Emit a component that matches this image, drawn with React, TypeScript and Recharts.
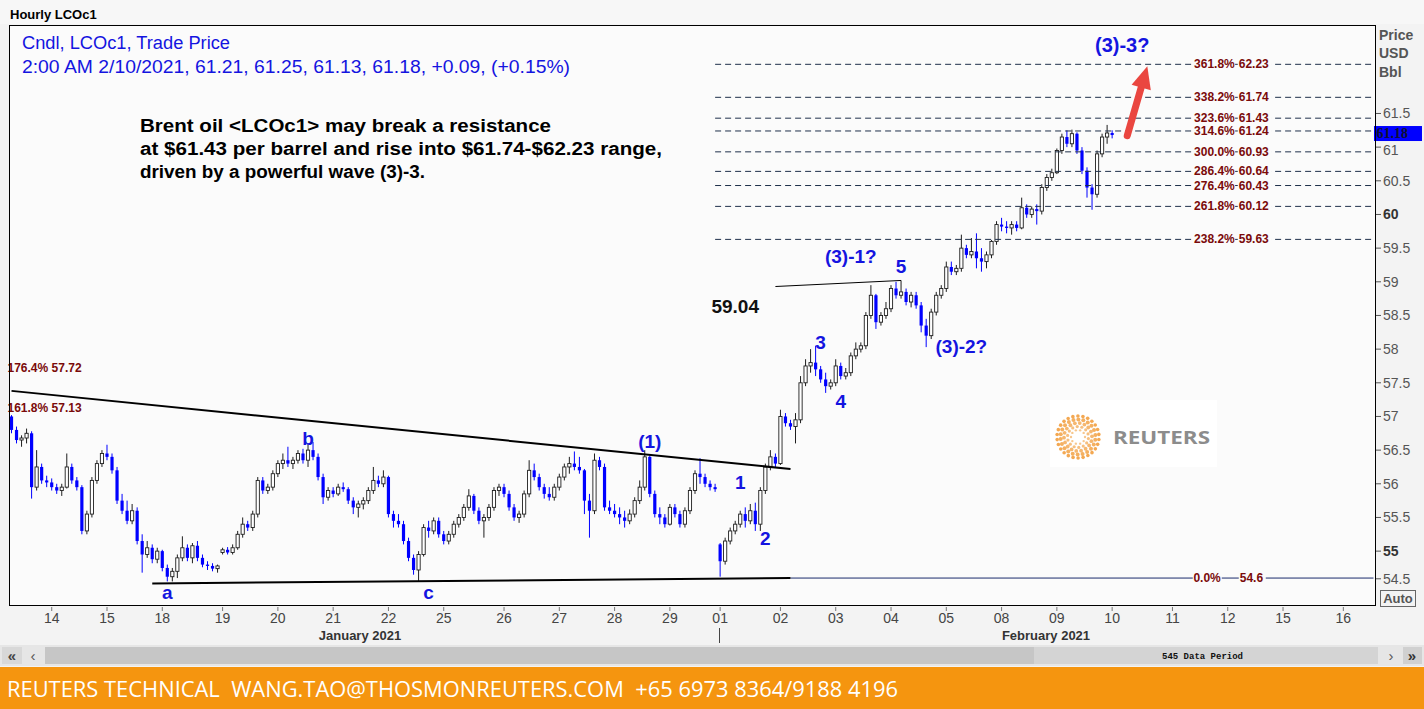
import React from 'react';
import { ComposedChart, Bar, XAxis, YAxis, ReferenceLine, ReferenceDot } from 'recharts';

// ---------- DATA ----------
const dayLabels = ['13','14','15','18','19','20','21','22','25','26','27','28','29','01','02','03','04','05','08','09','10','11','12','15','16'];
// number of 2-hour bars per trading day (last ones are empty future slots)
const barsPerDay = [8,11,11,12,11,11,11,11,12,11,11,11,10,12,11,11,11,11,11,11,12,11,11,12,7];

const opens = [
  57.0,56.8,56.65,56.68,56.75,55.95,56.25,56.05,
  56.02,55.95,55.9,55.95,56.25,56.05,55.95,55.3,55.55,56.05,56.3,
  56.45,56.4,56.2,55.75,55.6,55.45,55.6,55.15,54.95,55.05,54.88,
  55.0,54.75,54.62,54.7,54.9,55.05,54.9,55.08,54.9,54.8,54.78,54.74,
  54.98,55.02,54.98,55.05,55.25,55.4,55.35,55.55,56.05,55.9,55.95,
  56.15,56.3,56.35,56.3,56.35,56.45,56.35,56.5,56.4,56.1,55.8,
  55.9,55.85,55.95,55.92,55.75,55.65,55.7,55.75,55.9,56.05,56.0,
  56.1,55.55,55.45,55.4,55.15,54.9,54.72,54.95,55.35,55.3,55.45,
  55.25,55.15,55.25,55.4,55.5,55.65,55.82,55.6,55.45,55.5,55.65,55.9,
  55.95,55.85,55.65,55.5,55.55,55.85,56.2,56.1,55.95,55.85,55.8,
  55.95,56.1,56.25,56.3,56.25,56.2,55.75,55.6,56.35,56.25,55.65,
  55.6,55.55,55.5,55.45,55.55,55.75,55.95,56.4,55.85,55.55,55.5,
  55.4,55.65,55.55,55.4,55.6,55.9,56.15,56.1,56.0,55.95,
  55.1,54.85,55.15,55.3,55.4,55.55,55.45,55.6,55.4,55.9,56.25,56.4,
  56.3,57.0,56.9,56.85,56.95,57.5,57.75,57.8,57.7,57.55,57.45,
  57.5,57.75,57.6,57.65,57.9,58.0,58.05,58.5,58.8,58.4,58.5,
  58.6,58.9,58.8,58.85,58.7,58.8,58.65,58.35,58.2,58.55,58.8,
  58.9,59.22,59.15,59.2,59.5,59.4,59.45,59.35,59.3,59.4,59.6,
  59.85,59.82,59.8,59.85,59.8,60.1,60.0,60.08,60.05,60.4,60.55,
  60.62,60.95,61.15,61.05,61.2,60.95,60.65,60.4,60.3,60.9,61.15,
  61.21,
];
const highs = [
  57.02,56.85,56.72,56.82,56.78,56.5,56.3,56.12,
  56.08,56.0,56.0,56.45,56.3,56.1,55.98,55.6,56.1,56.35,56.5,
  56.58,56.45,56.25,55.85,55.75,55.7,55.65,55.25,55.15,55.1,55.05,
  55.02,54.8,54.75,54.95,55.22,55.1,55.12,55.15,54.95,54.85,54.82,54.8,
  55.05,55.06,55.1,55.3,55.5,55.45,55.6,56.1,56.1,56.0,56.2,
  56.35,56.45,56.55,56.4,56.5,56.52,56.6,56.62,56.45,56.15,55.95,
  55.95,56.0,56.02,55.95,55.8,55.75,55.8,55.95,56.25,56.12,56.2,
  56.12,55.6,55.55,55.45,55.2,54.95,55.0,55.4,55.45,55.5,55.5,
  55.3,55.3,55.45,55.55,55.7,55.92,55.85,55.65,55.55,55.7,55.95,56.0,
  56.0,55.9,55.7,55.6,55.9,56.35,56.3,56.15,56.0,55.95,56.0,
  56.15,56.3,56.4,56.48,56.4,56.22,55.85,56.45,56.4,56.3,55.75,
  55.7,55.65,55.6,55.62,55.8,56.05,56.5,56.42,55.9,55.65,55.55,
  55.7,55.7,55.6,55.65,55.95,56.2,56.38,56.15,56.05,56.0,
  55.12,55.2,55.35,55.45,55.6,55.65,55.7,55.72,55.95,56.3,56.5,56.45,
  57.1,57.05,56.95,57.05,57.6,57.85,58.0,58.05,57.75,57.65,57.55,
  57.85,57.8,57.72,57.95,58.1,58.1,58.55,58.95,58.82,58.55,58.7,
  58.95,59.0,59.02,58.9,58.85,58.85,58.7,58.45,58.6,58.85,58.95,
  59.3,59.3,59.25,59.7,59.55,59.65,59.72,59.5,59.45,59.62,59.9,
  59.95,59.9,59.9,59.9,60.25,60.15,60.12,60.15,60.45,60.6,60.68,
  60.98,61.2,61.25,61.26,61.22,61.0,60.7,60.45,60.95,61.2,61.33,
  61.25,
];
const lows = [
  56.75,56.6,56.55,56.6,55.78,55.9,56.0,55.95,
  55.9,55.85,55.82,55.93,56.0,55.9,55.25,55.25,55.5,56.0,56.25,
  56.35,56.15,55.7,55.55,55.4,55.4,55.1,54.68,54.9,54.82,54.82,
  54.7,54.55,54.55,54.6,54.85,54.85,54.82,54.85,54.76,54.72,54.7,54.68,
  54.95,54.95,54.95,55.02,55.2,55.3,55.3,55.5,55.85,55.85,55.9,
  56.1,56.22,56.25,56.22,56.3,56.3,56.25,56.35,56.05,55.7,55.75,
  55.8,55.82,55.88,55.7,55.55,55.5,55.62,55.7,55.85,55.95,55.95,
  55.5,55.35,55.35,55.1,54.85,54.65,54.55,54.92,55.2,55.25,55.2,
  55.1,55.1,55.2,55.35,55.45,55.6,55.55,55.4,55.2,55.45,55.6,55.82,
  55.8,55.6,55.45,55.42,55.5,55.8,56.05,55.9,55.78,55.75,55.75,
  55.9,56.05,56.15,56.2,56.15,55.55,55.2,55.55,56.2,55.6,55.55,
  55.5,55.4,55.35,55.4,55.5,55.7,55.9,55.8,55.5,55.4,55.35,
  55.38,55.5,55.35,55.35,55.55,55.85,56.0,55.95,55.9,55.88,
  54.62,54.8,55.1,55.25,55.35,55.35,55.4,55.3,55.3,55.85,56.2,56.25,
  56.28,56.85,56.8,56.6,56.9,57.45,57.65,57.6,57.5,57.35,57.4,
  57.45,57.55,57.55,57.6,57.85,57.95,58.0,58.45,58.3,58.35,58.45,
  58.55,58.75,58.75,58.65,58.62,58.6,58.25,58.03,58.15,58.5,58.75,
  58.85,59.1,59.1,59.15,59.35,59.35,59.2,59.15,59.2,59.35,59.55,
  59.75,59.72,59.7,59.75,59.78,59.95,59.95,59.85,60.0,60.35,60.5,
  60.6,60.9,61.0,61.0,60.9,60.6,60.25,60.07,60.25,60.85,61.05,
  61.13,
];
const closes = [
  56.8,56.65,56.68,56.75,55.95,56.25,56.05,56.02,
  55.95,55.9,55.95,56.25,56.05,55.95,55.3,55.55,56.05,56.3,56.45,
  56.4,56.2,55.75,55.6,55.45,55.6,55.15,54.95,55.05,54.88,55.0,
  54.75,54.62,54.7,54.9,55.05,54.9,55.08,54.9,54.8,54.78,54.74,54.78,
  55.02,54.98,55.05,55.25,55.4,55.35,55.55,56.05,55.9,55.95,56.15,
  56.3,56.35,56.3,56.35,56.45,56.35,56.5,56.4,56.1,55.8,55.9,
  55.85,55.95,55.92,55.75,55.65,55.7,55.75,55.9,56.05,56.0,56.1,
  55.55,55.45,55.4,55.15,54.9,54.72,54.95,55.35,55.3,55.45,55.25,
  55.15,55.25,55.4,55.5,55.65,55.82,55.6,55.45,55.5,55.65,55.9,55.95,
  55.85,55.65,55.5,55.55,55.85,56.2,56.1,55.95,55.85,55.8,55.95,
  56.1,56.25,56.3,56.25,56.2,55.75,55.6,56.35,56.25,55.65,55.6,
  55.55,55.5,55.45,55.55,55.75,55.95,56.4,55.85,55.55,55.5,55.4,
  55.65,55.55,55.4,55.6,55.9,56.15,56.1,56.0,55.95,55.92,
  54.85,55.15,55.3,55.4,55.55,55.45,55.6,55.4,55.9,56.25,56.4,56.3,
  57.0,56.9,56.85,56.95,57.5,57.75,57.8,57.7,57.55,57.45,57.5,
  57.75,57.6,57.65,57.9,58.0,58.05,58.5,58.8,58.4,58.5,58.6,
  58.9,58.8,58.85,58.7,58.8,58.65,58.35,58.2,58.55,58.8,58.9,
  59.22,59.15,59.2,59.5,59.4,59.45,59.35,59.3,59.4,59.6,59.85,
  59.82,59.8,59.85,59.8,60.1,60.0,60.08,60.05,60.4,60.55,60.62,
  60.95,61.15,61.05,61.2,60.95,60.65,60.4,60.3,60.9,61.15,61.21,
  61.18,
];

const priceTicks = [54.5,55,55.5,56,56.5,57,57.5,58,58.5,59,59.5,60,60.5,61,61.5];
const boldTicks = [55, 60];
const lastPrice = 61.18;

const fibLevels = [
  { pct: '361.8%', value: 62.23 },
  { pct: '338.2%', value: 61.74 },
  { pct: '323.6%', value: 61.43 },
  { pct: '314.6%', value: 61.24 },
  { pct: '300.0%', value: 60.93 },
  { pct: '286.4%', value: 60.64 },
  { pct: '276.4%', value: 60.43 },
  { pct: '261.8%', value: 60.12 },
  { pct: '238.2%', value: 59.63 },
];
const fibBase = { pct: '0.0%', value: 54.6 };
const leftFibs = [
  { text: '176.4% 57.72', value: 57.72 },
  { text: '161.8% 57.13', value: 57.13 },
];
const waveLabels = [
  { text: 'a', slot: 31, price: 54.39, size: 19 },
  { text: 'b', slot: 59, price: 56.68, size: 19 },
  { text: 'c', slot: 83, price: 54.39, size: 19 },
  { text: '(1)', slot: 127, price: 56.63, size: 19 },
  { text: '1', slot: 145, price: 56.03, size: 19 },
  { text: '2', slot: 150, price: 55.19, size: 19 },
  { text: '3', slot: 161, price: 58.1, size: 19 },
  { text: '4', slot: 165, price: 57.23, size: 19 },
  { text: '5', slot: 177, price: 59.23, size: 19 },
  { text: '(3)-1?', slot: 167, price: 59.38, size: 19 },
  { text: '(3)-2?', slot: 189, price: 58.04, size: 19 },
  { text: '(3)-3?', slot: 221, price: 62.52, size: 20 },
];
const resistanceNote = { text: '59.04', slot: 144, price: 58.64 };
const upperTrend = [{ x: 0, y: 57.38 }, { x: 155, y: 56.22 }];
const lowerTrend = [{ x: 28, y: 54.52 }, { x: 155, y: 54.6 }];
const wave1Line = [{ x: 152, y: 58.93 }, { x: 177, y: 59.02 }];
const fibStartSlot = 140;
const baseStartSlot = 155;
const lastSlot = 271;
const labelSlot = 243;
const arrowPts = [{ x: 222, y: 61.17 }, { x: 226, y: 62.2 }];

// ---------- BUILD ROWS ----------
type Row = { i: number; open: number | null; high: number | null; low: number | null; close: number | null };
const rows: Row[] = [];
const dayStart = new Map<number, string>();
{
  let idx = 0;
  dayLabels.forEach((lab, d) => {
    for (let k = 0; k < barsPerDay[d]; k++) {
      if (k === 0 && idx > 0) dayStart.set(idx, lab);
      const has = idx < closes.length;
      rows.push({
        i: idx,
        open: has ? opens[idx] : null,
        high: has ? highs[idx] : null,
        low: has ? lows[idx] : null,
        close: has ? closes[idx] : null,
      });
      idx++;
    }
  });
}

const FONT = "'Liberation Sans', Arial, sans-serif";
const BLUE = '#1414e0';
const DARKRED = '#7a0a0a';
const PLOTBG = '#fbfbfb';

const Candle = (props: any) => {
  const { x, y, width, height, payload } = props;
  if (!payload || payload.open == null) return <g />;
  const { open, high, low, close } = payload;
  const top = Math.min(y, y + height);
  const h = Math.abs(height);
  const py = (v: number) => (high === low ? top : top + ((high - v) / (high - low)) * h);
  const up = close >= open;
  const cx = x + width / 2;
  const bw = Math.max(2, width * 0.64);
  const yo = py(open), yc = py(close);
  const bt = Math.min(yo, yc);
  const bh = Math.max(1, Math.abs(yo - yc));
  const col = up ? '#1e1e1e' : '#0000ff';
  return (
    <g>
      <line x1={cx} x2={cx} y1={top} y2={top + h} stroke={col} strokeWidth={1} />
      <rect x={cx - bw / 2} y={bt} width={bw} height={bh} fill={up ? '#ffffff' : '#0000ff'} stroke={col} strokeWidth={up ? 0.9 : 0} />
    </g>
  );
};

const renderDayTick = (p: any) => {
  const lab = dayStart.get(Number(p.payload.value));
  if (!lab) return <g />;
  return (
    <g>
      <line x1={p.x} x2={p.x} y1={p.y + 1} y2={p.y + 5} stroke="#777" />
      <text x={p.x} y={p.y + 17} textAnchor="middle" fontSize={14} fill="#444" fontFamily={FONT}>{lab}</text>
    </g>
  );
};

const renderPriceTick = (p: any) => {
  const v = Number(p.payload.value);
  const bold = boldTicks.includes(v);
  const shift = v === 54.5 ? -6 : 0;
  const labelShift = v === 61 ? 3 : 0;
  return (
    <g>
      <line x1={p.x} x2={p.x + 5} y1={p.y + shift} y2={p.y + shift} stroke="#555" />
      <text x={p.x + 7} y={p.y + 5 + shift + labelShift} fontSize={14} fontWeight={bold ? 'bold' : 'normal'} fill={bold ? '#333' : '#555'} fontFamily={FONT}>{String(v)}</text>
    </g>
  );
};

const fibLabel = (pct: string, value: number) => (p: any) => (
  <g>
    <rect x={p.cx - 40} y={p.cy - 7} width={41} height={13} fill={PLOTBG} />
    <rect x={p.cx + 5} y={p.cy - 7} width={34} height={13} fill={PLOTBG} />
    <text x={p.cx + 2} y={p.cy + 4} textAnchor="end" fontSize={12} fontWeight="bold" fill={DARKRED} fontFamily={FONT}>{pct}</text>
    <text x={p.cx + 6} y={p.cy + 4} textAnchor="start" fontSize={12} fontWeight="bold" fill={DARKRED} fontFamily={FONT}>{value.toFixed(2)}</text>
  </g>
);

const baseLabel = (p: any) => (
  <g>
    <rect x={p.cx - 40} y={p.cy - 7} width={29} height={13} fill={PLOTBG} />
    <rect x={p.cx + 6} y={p.cy - 7} width={27} height={13} fill={PLOTBG} />
    <text x={p.cx - 12} y={p.cy + 4} textAnchor="end" fontSize={12} fontWeight="bold" fill={DARKRED} fontFamily={FONT}>{fibBase.pct}</text>
    <text x={p.cx + 7} y={p.cy + 4} textAnchor="start" fontSize={12} fontWeight="bold" fill={DARKRED} fontFamily={FONT}>{String(fibBase.value)}</text>
  </g>
);

const waveText = (text: string, color: string, size: number) => (p: any) => (
  <text x={p.cx} y={p.cy} dy="0.36em" textAnchor="middle" fontSize={size} fontWeight="bold" fill={color} fontFamily={FONT}>{text}</text>
);

const leftFibText = (text: string) => (p: any) => (
  <text x={p.cx - 4} y={p.cy + 4} fontSize={12} fontWeight="bold" fill={DARKRED} fontFamily={FONT}>{text}</text>
);

const lastTag = (p: any) => (
  <g>
    <rect x={p.cx + 0.5} y={p.cy - 9} width={48} height={15} fill="#0000ff" />
    <text x={p.cx + 3} y={p.cy + 3} fontSize={14} fontWeight="bold" fill="#101030" fontFamily="'Liberation Serif', serif">{lastPrice.toFixed(2)}</text>
  </g>
);

const arrowShape = (p: any) => {
  const { x1, y1, x2, y2 } = p;
  const dx = x2 - x1, dy = y2 - y1;
  const L = Math.hypot(dx, dy) || 1;
  const ux = dx / L, uy = dy / L;
  const head = 22, hw = 10;
  const bx = x2 - ux * head, by = y2 - uy * head;
  return (
    <g>
      <line x1={x1} y1={y1} x2={bx + ux * 2} y2={by + uy * 2} stroke="#ea4640" strokeWidth={7} strokeLinecap="round" />
      <polygon points={`${x2},${y2} ${bx - uy * hw},${by + ux * hw} ${bx + uy * hw},${by - ux * hw}`} fill="#ea4640" />
    </g>
  );
};

const ReutersLogo = () => {
  const dots: React.ReactNode[] = [];
  const rings = [
    { r: 7, n: 10, s: 1.2 },
    { r: 10.5, n: 14, s: 1.6 },
    { r: 14, n: 18, s: 1.9 },
    { r: 17.5, n: 22, s: 2.0 },
    { r: 21, n: 26, s: 1.8 },
  ];
  rings.forEach((ring, ri) => {
    for (let k = 0; k < ring.n; k++) {
      const a = (k / ring.n) * Math.PI * 2 + ri * 0.15;
      dots.push(<circle key={`${ri}-${k}`} cx={1078 + ring.r * Math.cos(a)} cy={437 + ring.r * Math.sin(a)} r={ring.s} fill="#f2a143" opacity={0.6 + ri * 0.08} />);
    }
  });
  return (
    <g>
      <rect x={1050} y={400} width={167} height={67} fill="#ffffff" />
      {dots}
      <text x={1113} y={444} fontSize={18} fontWeight="bold" fill="#8c8c8c" fontFamily="'Open Sans', Arial, sans-serif" textLength={97} lengthAdjust="spacingAndGlyphs">REUTERS</text>
    </g>
  );
};

export default function App() {
  return (
    <div style={{ position: 'absolute', left: 0, top: 0, width: 1424, height: 709, background: '#f3f3f3', overflow: 'hidden', fontFamily: FONT }}>
      <div style={{ position: 'absolute', left: 0, top: 0, width: 1424, height: 24, background: '#f7f7f7' }} />
      <div style={{ position: 'absolute', left: 9, top: 25, width: 1367, height: 581, background: PLOTBG }} />
      <div style={{ position: 'absolute', left: 0, top: 0 }}>
        <ComposedChart width={1424} height={645} data={rows} margin={{ top: 25, right: 0, bottom: 0, left: 9 }} barCategoryGap={0} barGap={0}>
          <XAxis dataKey="i" type="category" interval={0} tickSize={0} tickMargin={0} axisLine={false} tickLine={false} height={39} tick={renderDayTick} />
          <YAxis orientation="right" type="number" domain={[54.185, 62.814]} ticks={priceTicks} allowDataOverflow width={48} tickSize={0} tickMargin={0} axisLine={false} tickLine={false} tick={renderPriceTick} />
          {fibLevels.map((f) => (
            <ReferenceLine key={f.pct} segment={[{ x: fibStartSlot, y: f.value }, { x: lastSlot, y: f.value }]} stroke="#1e2f4a" strokeWidth={1} strokeDasharray="6 4" ifOverflow="visible" />
          ))}
          <ReferenceLine segment={[{ x: baseStartSlot, y: fibBase.value }, { x: lastSlot, y: fibBase.value }]} stroke="#1a2a6c" strokeWidth={1} ifOverflow="visible" />
          <ReferenceLine segment={upperTrend} stroke="#000" strokeWidth={2} ifOverflow="visible" />
          <ReferenceLine segment={lowerTrend} stroke="#000" strokeWidth={2} ifOverflow="visible" />
          <ReferenceLine segment={wave1Line} stroke="#000" strokeWidth={1} ifOverflow="visible" />
          <Bar dataKey={(d: Row) => (d.low == null ? null : [d.low, d.high])} shape={Candle} isAnimationActive={false} />
          {fibLevels.map((f) => (
            <ReferenceDot key={'l' + f.pct} x={labelSlot} y={f.value} ifOverflow="visible" shape={fibLabel(f.pct, f.value)} />
          ))}
          <ReferenceDot x={labelSlot} y={fibBase.value} ifOverflow="visible" shape={baseLabel} />
          {leftFibs.map((f) => (
            <ReferenceDot key={f.text} x={0} y={f.value} ifOverflow="visible" shape={leftFibText(f.text)} />
          ))}
          {waveLabels.map((w) => (
            <ReferenceDot key={w.text} x={w.slot} y={w.price} ifOverflow="visible" shape={waveText(w.text, BLUE, w.size)} />
          ))}
          <ReferenceDot x={resistanceNote.slot} y={resistanceNote.price} ifOverflow="visible" shape={waveText(resistanceNote.text, '#111', 19)} />
          <ReferenceLine segment={arrowPts} stroke="#ea4640" strokeWidth={7} ifOverflow="visible" shape={arrowShape} />
          <ReferenceDot x={lastSlot} y={lastPrice} ifOverflow="visible" shape={lastTag} />
        </ComposedChart>
      </div>
      <svg width={1424} height={709} style={{ position: 'absolute', left: 0, top: 0, pointerEvents: 'none' }} fontFamily={FONT}>
        <rect x={9.5} y={25.5} width={1366} height={580} fill="none" stroke="#000" strokeWidth={1} />
        <text x={10} y={19} fontSize={13} fontWeight="bold" fill="#000">Hourly LCOc1</text>
        <text x={22} y={49} fontSize={18} fill={BLUE} textLength={208} lengthAdjust="spacingAndGlyphs">Cndl, LCOc1, Trade Price</text>
        <text x={22} y={73} fontSize={18} fill={BLUE} textLength={548} lengthAdjust="spacingAndGlyphs">2:00 AM 2/10/2021, 61.21, 61.25, 61.13, 61.18, +0.09, (+0.15%)</text>
        <text x={140} y={132} fontSize={18} fontWeight="bold" fill="#000" textLength={411} lengthAdjust="spacingAndGlyphs">Brent oil &lt;LCOc1&gt; may break a resistance</text>
        <text x={140} y={155} fontSize={18} fontWeight="bold" fill="#000" textLength={522} lengthAdjust="spacingAndGlyphs">at $61.43 per barrel and rise into $61.74-$62.23 range,</text>
        <text x={140} y={178} fontSize={18} fontWeight="bold" fill="#000" textLength={285} lengthAdjust="spacingAndGlyphs">driven by a powerful wave (3)-3.</text>
        <text x={1379} y={40} fontSize={14} fontWeight="bold" fill="#555">Price</text>
        <text x={1379} y={58} fontSize={14} fontWeight="bold" fill="#555">USD</text>
        <text x={1379} y={77} fontSize={14} fontWeight="bold" fill="#555">Bbl</text>
        <rect x={1380.5} y={590.5} width={35} height={16} fill="#f3f3f3" stroke="#666" />
        <text x={1398} y={603} textAnchor="middle" fontSize={13} fontWeight="bold" fill="#555">Auto</text>
        <text x={360} y={640} textAnchor="middle" fontSize={13} fontWeight="bold" fill="#333">January 2021</text>
        <text x={1046} y={640} textAnchor="middle" fontSize={13} fontWeight="bold" fill="#333">February 2021</text>
        <line x1={719.5} x2={719.5} y1={628} y2={643} stroke="#444" />
        <ReutersLogo />
        {/* scrollbar */}
        <rect x={0} y={645} width={1424} height={21} fill="#e6e6e6" />
        <rect x={2} y={647} width={20} height={17} fill="#d8d8d8" />
        <text x={12} y={661} textAnchor="middle" fontSize={15} fontWeight="bold" fill="#444">«</text>
        <text x={33} y={661} textAnchor="middle" fontSize={15} fill="#555">‹</text>
        <rect x={45} y={647} width={989} height={17} fill="#c6c6c6" />
        <rect x={1034} y={647} width={344} height={17} fill="#d4d4d4" />
        <text x={1162} y={659} fontSize={9} fontWeight="bold" fill="#111" fontFamily="'Liberation Mono', monospace">545 Data Period</text>
        <text x={1391} y={661} textAnchor="middle" fontSize={15} fill="#555">›</text>
        <rect x={1403} y={647} width={19} height={17} fill="#d0d0d0" />
        <text x={1412} y={661} textAnchor="middle" fontSize={15} fontWeight="bold" fill="#333">»</text>
        {/* footer */}
        <rect x={0} y={667} width={1424} height={42} fill="#f5950f" />
        <text x={7} y={697} fontSize={22} fill="#ffffff" fontFamily="'Open Sans', Arial, sans-serif" textLength={891} lengthAdjust="spacingAndGlyphs" style={{ whiteSpace: 'pre' }}>REUTERS TECHNICAL  WANG.TAO@THOSMONREUTERS.COM  +65 6973 8364/9188 4196</text>
      </svg>
    </div>
  );
}
